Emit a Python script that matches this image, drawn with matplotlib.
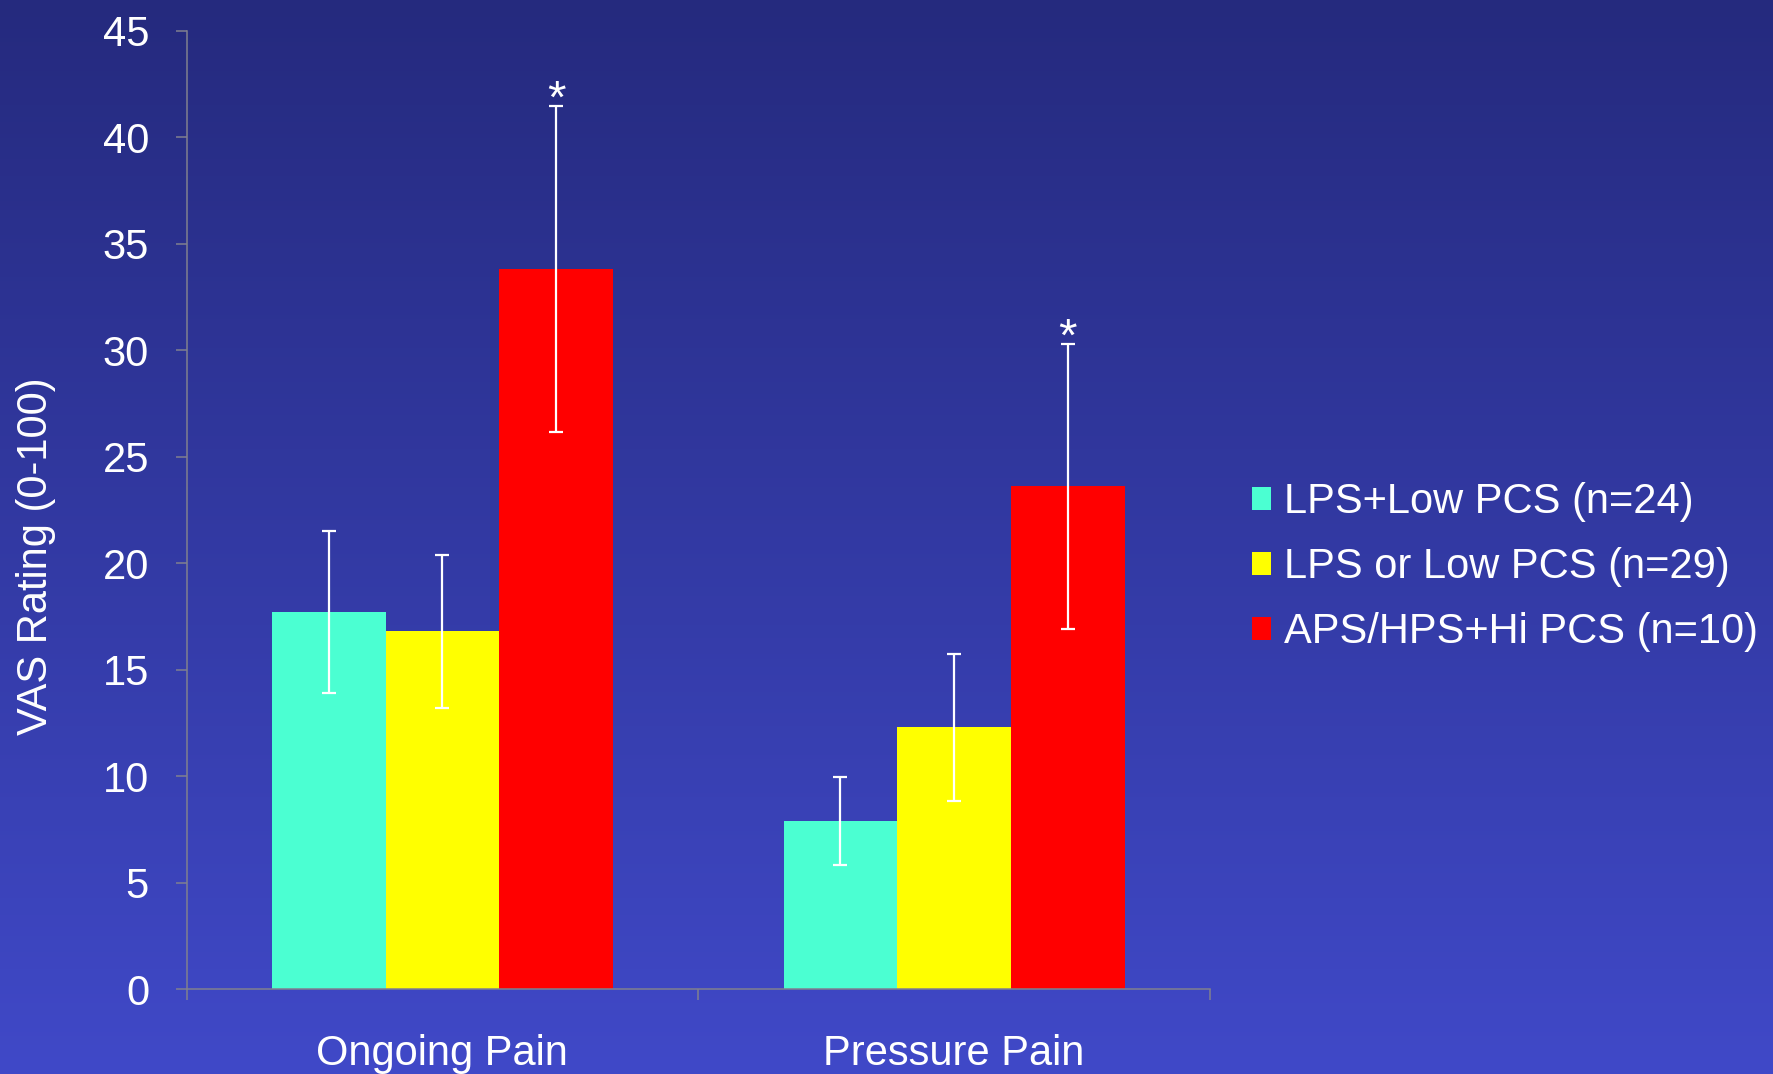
import numpy as np
import matplotlib.pyplot as plt
from matplotlib.colors import LinearSegmentedColormap
from matplotlib.ticker import FixedLocator

plt.rcParams['font.family'] = ['Liberation Sans', 'DejaVu Sans']

conditions = ['Ongoing Pain', 'Pressure Pain']
groups = ['LPS+Low PCS (n=24)', 'LPS or Low PCS (n=29)', 'APS/HPS+Hi PCS (n=10)']
group_colors = ['#4bffd2', '#ffff00', '#ff0000']
# mean VAS rating and standard error, one row per group
means = [[17.7, 7.9],
         [16.8, 12.3],
         [33.8, 23.6]]
sems = [[3.8, 2.05],
        [3.6, 3.45],
        [7.65, 6.7]]
significant = [False, False, True]

fig = plt.figure(figsize=(17.73, 10.74), dpi=100)

# slide-style blue gradient behind everything
bg = fig.add_axes([0, 0, 1, 1], zorder=-1)
grad = np.linspace(0, 1, 256).reshape(-1, 1)
cmap = LinearSegmentedColormap.from_list('slide', ['#252a7e', '#4049c8'])
bg.imshow(grad, aspect='auto', cmap=cmap, extent=[0, 1, 0, 1])
bg.axis('off')

ax = fig.add_axes([0.1052, 0.0788, 0.5773, 0.8928])
ax.set_facecolor('none')

x = np.arange(len(conditions))
width = 2 / 9
for i, name in enumerate(groups):
    pos = x + (i - 1) * width
    ax.bar(pos, means[i], width, yerr=sems[i], color=group_colors[i],
           label=name, error_kw=dict(ecolor='white', elinewidth=1.6,
                                     capsize=5, capthick=1.6))
    if significant[i]:
        for px, m, s in zip(pos, means[i], sems[i]):
            ax.annotate('*', (px, m + s), xytext=(0, -5),
                        textcoords='offset points', ha='center',
                        va='baseline', color='white', fontsize=34)

axis_grey = '#80808f'
ax.set_xlim(-0.5, len(conditions) - 0.5)
ax.set_ylim(0, 45)
ax.set_yticks(np.arange(0, 46, 5))
ax.set_xticks(x)
ax.set_xticklabels(conditions)
ax.xaxis.set_minor_locator(FixedLocator(np.arange(-0.5, len(conditions), 1)))

for side in ['top', 'right']:
    ax.spines[side].set_visible(False)
for side in ['left', 'bottom']:
    ax.spines[side].set_color(axis_grey)
    ax.spines[side].set_linewidth(1.1)

ax.tick_params(axis='y', colors=axis_grey, labelcolor='white', labelsize=30,
               length=8, width=1.1, pad=19)
ax.tick_params(axis='x', which='major', length=0, labelcolor='white',
               labelsize=30, pad=32)
ax.tick_params(axis='x', which='minor', colors=axis_grey, length=8, width=1.1)

fig.text(36 / 1773, 1 - 556 / 1074, 'VAS Rating (0-100)', rotation=90,
         ha='center', va='center', color='white', fontsize=30)

ax.legend(loc='center left', bbox_to_anchor=(1252 / 1773, 1 - 567 / 1074),
          bbox_transform=fig.transFigure, frameon=False, fontsize=30,
          labelcolor='white', handlelength=0.46, handleheight=0.46,
          handletextpad=0.31, labelspacing=0.6, borderpad=0,
          borderaxespad=0)

fig.savefig('out.png', dpi=100)
